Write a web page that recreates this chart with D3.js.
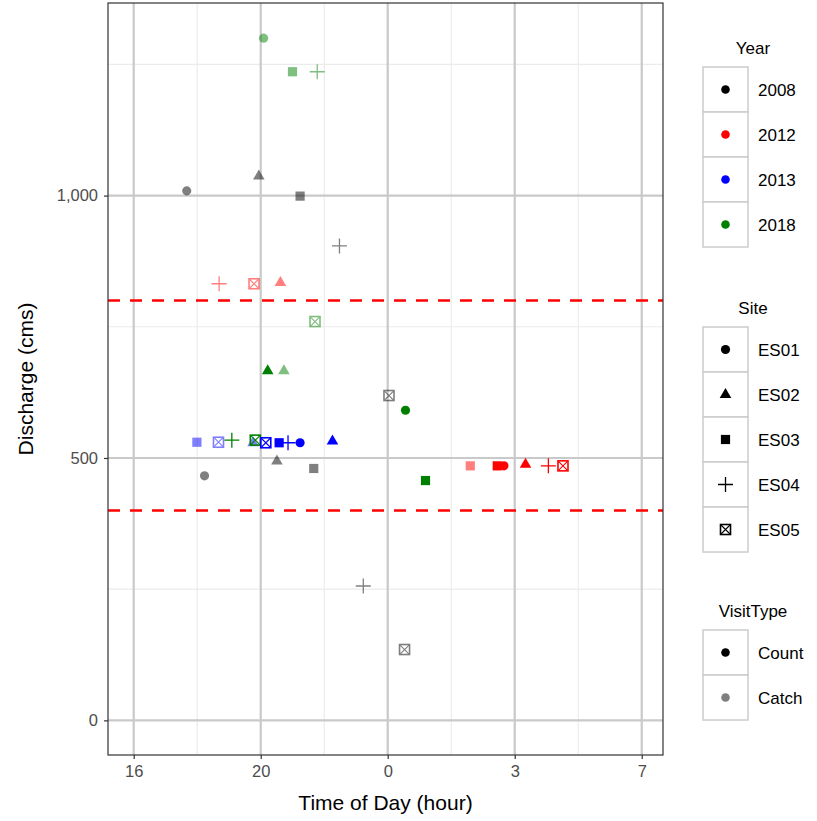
<!DOCTYPE html>
<html>
<head>
<meta charset="utf-8">
<script src="https://cdn.jsdelivr.net/npm/d3@7"></script>
<style>
  body { margin: 0; background: #fff; }
  svg { font-family: "Liberation Sans", Arial, sans-serif; }
</style>
</head>
<body>
<svg id="chart" width="817" height="821"></svg>
<script>
// hours counted on from 16:00 (24 = midnight), discharge in cms
var hours     = [20.09, 21.00, 21.78, 19.94, 17.67, 21.24, 22.48, 18.69, 19.79, 20.62,
                 21.71, 20.22, 20.73, 24.04, 24.56, 17.99, 18.67, 19.76, 19.09, 19.83,
                 20.16, 20.58, 20.86, 21.24, 22.26, 20.51, 21.67, 18.23, 25.19, 26.60,
                 27.45, 27.66, 28.34, 29.06, 29.52, 23.23, 24.53];
var discharge = [1300, 1236, 1236, 1037, 1009, 999, 904, 832, 832, 834,
                 760, 666, 666, 619, 591, 530, 530, 529, 534, 534,
                 529, 529, 529, 529, 532, 494, 480, 466, 457, 485,
                 485, 485, 488, 485, 485, 256, 135];
var years     = [2018, 2018, 2018, 2008, 2008, 2008, 2008, 2012, 2012, 2012,
                 2018, 2018, 2018, 2008, 2018, 2013, 2013, 2013, 2018, 2018,
                 2013, 2013, 2013, 2013, 2013, 2008, 2008, 2008, 2018, 2012,
                 2012, 2012, 2012, 2012, 2012, 2008, 2008];
var sites     = ["ES01", "ES03", "ES04", "ES02", "ES01", "ES03", "ES04", "ES04", "ES05", "ES02",
                 "ES05", "ES02", "ES02", "ES05", "ES01", "ES03", "ES05", "ES02", "ES04", "ES05",
                 "ES05", "ES03", "ES04", "ES01", "ES02", "ES02", "ES03", "ES01", "ES03", "ES03",
                 "ES03", "ES01", "ES02", "ES04", "ES05", "ES04", "ES05"];
var visits    = ["Catch", "Catch", "Catch", "Catch", "Catch", "Catch", "Catch", "Catch", "Catch", "Catch",
                 "Catch", "Count", "Catch", "Catch", "Count", "Catch", "Catch", "Catch", "Count", "Count",
                 "Count", "Count", "Count", "Count", "Count", "Catch", "Catch", "Catch", "Count", "Catch",
                 "Count", "Count", "Count", "Count", "Count", "Catch", "Catch"];

var yearLevels  = [2008, 2012, 2013, 2018];
var yearColors  = ["#000000", "#FF0000", "#0000FF", "#008000"];
var siteLevels  = ["ES01", "ES02", "ES03", "ES04", "ES05"];
var visitLevels = ["Count", "Catch"];
var visitAlpha  = [1, 0.5];

var xTicks      = [16, 20, 24, 28, 32];
var xTickLabels = ["16", "20", "0", "3", "7"];
var xMinor      = [18, 22, 26, 30];
var yTicks      = [0, 500, 1000];
var yMinor      = [250, 750, 1250];
var limits      = [400, 800];

var data = hours.map(function(h, i){
  return {hour: h, q: discharge[i], year: years[i], site: sites[i], visit: visits[i]};
});

var svg = d3.select("#chart");
var panel = {left: 108, right: 663, top: 3, bottom: 755};

var x = d3.scaleLinear().domain([15.19, 32.67]).range([panel.left, panel.right]);
var y = d3.scaleLinear().domain([-66, 1367]).range([panel.bottom, panel.top]);
var color = d3.scaleOrdinal().domain(yearLevels).range(yearColors);
var alpha = d3.scaleOrdinal().domain(visitLevels).range(visitAlpha);

// shape paths, centred on 0,0
function shapePath(site){
  if (site == "ES01") return d3.symbol(d3.symbolCircle, 66)();
  if (site == "ES02") return "M0,-6.6L5.8,3.4L-5.8,3.4Z";
  if (site == "ES03") return "M-4.6,-4.6H4.6V4.6H-4.6Z";
  return null;
}

function drawShape(g, site, col, op){
  if (site == "ES04") {
    g.append("path").attr("d", "M-7.5,0H7.5M0,-7.5V7.5")
      .attr("stroke", col).attr("stroke-width", 1.3).attr("fill", "none").attr("opacity", op);
  } else if (site == "ES05") {
    var s = g.append("g").attr("opacity", op);
    s.append("rect").attr("x", -5).attr("y", -5).attr("width", 10).attr("height", 10)
      .attr("fill", "none").attr("stroke", col).attr("stroke-width", 1.6);
    s.append("path").attr("d", "M-5,-5L5,5M5,-5L-5,5")
      .attr("stroke", col).attr("stroke-width", 1.1).attr("fill", "none");
  } else {
    g.append("path").attr("d", shapePath(site)).attr("fill", col).attr("opacity", op);
  }
}

// panel background and grid
svg.append("rect").attr("x", panel.left).attr("y", panel.top)
  .attr("width", panel.right - panel.left).attr("height", panel.bottom - panel.top)
  .attr("fill", "#fff");

var grid = svg.append("g");
grid.selectAll(".xminor").data(xMinor).enter().append("line")
  .attr("x1", function(d){ return x(d); }).attr("x2", function(d){ return x(d); })
  .attr("y1", panel.top).attr("y2", panel.bottom)
  .attr("stroke", "#EBEBEB").attr("stroke-width", 1.1);
grid.selectAll(".yminor").data(yMinor).enter().append("line")
  .attr("y1", function(d){ return y(d); }).attr("y2", function(d){ return y(d); })
  .attr("x1", panel.left).attr("x2", panel.right)
  .attr("stroke", "#EBEBEB").attr("stroke-width", 1.1);
grid.selectAll(".xmajor").data(xTicks).enter().append("line")
  .attr("x1", function(d){ return x(d); }).attr("x2", function(d){ return x(d); })
  .attr("y1", panel.top).attr("y2", panel.bottom)
  .attr("stroke", "#C9C9C9").attr("stroke-width", 2.2);
grid.selectAll(".ymajor").data(yTicks).enter().append("line")
  .attr("y1", function(d){ return y(d); }).attr("y2", function(d){ return y(d); })
  .attr("x1", panel.left).attr("x2", panel.right)
  .attr("stroke", "#C9C9C9").attr("stroke-width", 2.2);

// reference lines
svg.selectAll(".limit").data(limits).enter().append("line")
  .attr("x1", panel.left).attr("x2", panel.right)
  .attr("y1", function(d){ return y(d); }).attr("y2", function(d){ return y(d); })
  .attr("stroke", "#FF0000").attr("stroke-width", 2.4).attr("stroke-dasharray", "12,10");

// points
data.forEach(function(d){
  var g = svg.append("g").attr("transform", "translate(" + x(d.hour) + "," + y(d.q) + ")");
  drawShape(g, d.site, color(d.year), alpha(d.visit));
});

// border
svg.append("rect").attr("x", panel.left).attr("y", panel.top)
  .attr("width", panel.right - panel.left).attr("height", panel.bottom - panel.top)
  .attr("fill", "none").attr("stroke", "#333").attr("stroke-width", 1.2);

// axes
var xAxis = d3.axisBottom(x).tickValues(xTicks).tickSize(4).tickPadding(6)
  .tickFormat(function(d, i){ return xTickLabels[i]; });
var yAxis = d3.axisLeft(y).tickValues(yTicks).tickSize(4).tickPadding(6)
  .tickFormat(d3.format(","));

var gx = svg.append("g").attr("transform", "translate(0," + panel.bottom + ")").call(xAxis);
var gy = svg.append("g").attr("transform", "translate(" + panel.left + ",0)").call(yAxis);
[gx, gy].forEach(function(g){
  g.select(".domain").remove();
  g.selectAll(".tick line").attr("stroke", "#333").attr("stroke-width", 1.2);
  g.selectAll(".tick text").attr("fill", "#4D4D4D").style("font-size", "16.5px");
});

svg.append("text").attr("x", (panel.left + panel.right) / 2).attr("y", 810)
  .attr("text-anchor", "middle").style("font-size", "21px").text("Time of Day (hour)");
svg.append("text").attr("transform", "translate(33," + ((panel.top + panel.bottom) / 2) + ") rotate(-90)")
  .attr("text-anchor", "middle").style("font-size", "21px").text("Discharge (cms)");

// legends
function legend(title, top, items, draw){
  var lg = svg.append("g").attr("transform", "translate(703," + top + ")");
  lg.append("text").attr("x", 50).attr("y", -13).attr("text-anchor", "middle")
    .style("font-size", "17px").text(title);
  items.forEach(function(it, i){
    var row = lg.append("g").attr("transform", "translate(0," + (i * 45) + ")");
    row.append("rect").attr("x", 0).attr("y", 0).attr("width", 45).attr("height", 45)
      .attr("fill", "#fff").attr("stroke", "#CCCCCC").attr("stroke-width", 1.5);
    var k = row.append("g").attr("transform", "translate(22.5,22.5)");
    draw(k, it, i);
    row.append("text").attr("x", 55).attr("y", 28.5).style("font-size", "17px").text(it);
  });
}

legend("Year", 67, yearLevels, function(k, it){
  k.append("circle").attr("r", 4.3).attr("fill", color(it));
});
legend("Site", 327, siteLevels, function(k, it){
  drawShape(k, it, "#000", 1);
});
legend("VisitType", 630, visitLevels, function(k, it){
  k.append("circle").attr("r", 4.3).attr("fill", "#000").attr("opacity", alpha(it));
});
</script>
</body>
</html>
